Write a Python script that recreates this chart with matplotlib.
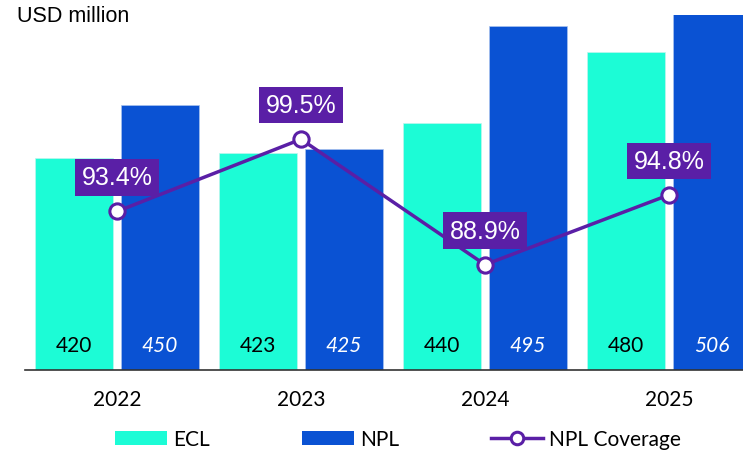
import numpy as np
import matplotlib
matplotlib.use('Agg')
import matplotlib.pyplot as plt
import matplotlib.transforms as mtransforms
from matplotlib.lines import Line2D
from matplotlib.patches import Patch

# datos
anios = ['2022', '2023', '2024', '2025']
ecl = [420, 423, 440, 480]
npl = [450, 425, 495, 506]
cobertura = [93.4, 99.5, 88.9, 94.8]

COLOR_ECL = '#1cfcd6'
COLOR_NPL = '#0a52d3'
COLOR_LINEA = '#5a1fa6'

fuente_num = ['Lato', 'DejaVu Sans']
fuente_arial = ['Liberation Sans', 'DejaVu Sans']
fuente_pct = ['Liberation Sans Narrow', 'Liberation Sans', 'DejaVu Sans']

fig = plt.figure(figsize=(7.43, 4.52), dpi=100)
ax = fig.add_axes([25 / 743, 1 - 371 / 452, 1 - 25 / 743, (371 - 16) / 452])

x = np.arange(len(anios))
ancho = 0.424
desp = 0.234

barras_ecl = ax.bar(x - desp, ecl, ancho, color=COLOR_ECL, edgecolor='#bff5ee', linewidth=0.5)
barras_npl = ax.bar(x + desp, npl, ancho, color=COLOR_NPL, edgecolor='#a9c2ef', linewidth=0.5)

ax.set_ylim(300, 501)
ax.set_xlim(-0.5, 3.402)

for s in ['top', 'left', 'right']:
    ax.spines[s].set_visible(False)
ax.spines['bottom'].set_color('#333333')
ax.spines['bottom'].set_linewidth(1.2)
ax.set_yticks([])
ax.set_xticks(x)
ax.set_xticklabels(anios, fontfamily=fuente_num, fontsize=15)
ax.tick_params(axis='x', length=0, pad=14)

# etiquetas de valor en la base de cada barra
trans = mtransforms.blended_transform_factory(ax.transData, ax.transAxes)
for xi, v in zip(x, ecl):
    ax.annotate(str(v), xy=(xi - desp, 0), xycoords=trans, xytext=(0, 18),
                textcoords='offset points', ha='center', va='center',
                fontsize=15, family=fuente_num, color='black')
for xi, v in zip(x, npl):
    ax.annotate(str(v), xy=(xi + desp, 0), xycoords=trans, xytext=(0, 18),
                textcoords='offset points', ha='center', va='center',
                fontsize=15, family=fuente_num, color='white', style='italic')

# eje secundario para la cobertura
ax2 = ax.twinx()
ax2.set_ylim(80, 110)
ax2.set_yticks([])
for s in ax2.spines.values():
    s.set_visible(False)

ax2.plot(x, cobertura, color=COLOR_LINEA, linewidth=2.5, marker='o', markersize=11,
         markerfacecolor='white', markeredgecolor=COLOR_LINEA, markeredgewidth=2.2,
         clip_on=False)

for xi, c in zip(x, cobertura):
    ax2.annotate(f'{c}%', xy=(xi, c), xytext=(0, 24.5), textcoords='offset points',
                 ha='center', va='center', fontsize=18, family=fuente_pct, color='white',
                 bbox=dict(boxstyle='square,pad=0.25', facecolor=COLOR_LINEA, edgecolor='none'))

fig.text(17 / 743, 1 - 16 / 452, 'USD million', ha='left', va='center',
         fontsize=15.5, family=fuente_arial, color='black')

handles = [
    Patch(facecolor=COLOR_ECL, label='ECL'),
    Patch(facecolor=COLOR_NPL, label='NPL'),
    Line2D([0], [0], color=COLOR_LINEA, linewidth=2.5, marker='o', markersize=9,
           markerfacecolor='white', markeredgecolor=COLOR_LINEA, markeredgewidth=2.2,
           label='NPL Coverage'),
]
fig.legend(handles=handles, loc='center', bbox_to_anchor=(0.536, 1 - 440 / 452), ncol=3,
           frameon=False, prop={'family': fuente_num, 'size': 15}, handlelength=2.5,
           handleheight=0.67, handletextpad=0.3, columnspacing=4.4, borderpad=0)

fig.savefig('out.png', dpi=100)
